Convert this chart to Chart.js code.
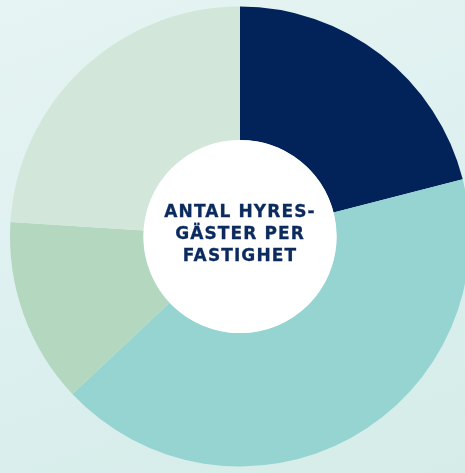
<!DOCTYPE html>
<html lang="sv">
<head>
<meta charset="utf-8">
<title>Antal hyresgäster per fastighet</title>
<script src="https://cdn.jsdelivr.net/npm/chart.js@4"></script>
<style>
  html, body {
    margin: 0;
    padding: 0;
    width: 465px;
    height: 473px;
    overflow: hidden;
  }
  body {
    background: linear-gradient(160deg, #e6f4f3 0%, #dcf0ef 55%, #d5ece8 100%);
    position: relative;
  }
  .wrap {
    position: absolute;
    left: 0;
    top: 0;
    width: 480px;
    height: 473px;
  }
  .center-label {
    position: absolute;
    left: 140px;
    top: 200px;
    width: 200px;
    text-align: center;
    font-family: "DejaVu Sans", sans-serif;
    font-weight: bold;
    font-size: 17px;
    line-height: 22px;
    letter-spacing: 1.1px;
    color: #0b2a5e;
    -webkit-text-stroke: 0.3px #0b2a5e;
  }
</style>
</head>
<body>
<div class="wrap">
  <canvas id="chartHyresgaster" width="480" height="473"></canvas>
</div>
<div class="center-label">ANTAL HYRES-<br>GÄSTER PER<br>FASTIGHET</div>

<script>
/* ================================
   Data
   ================================ */
const segments = ["Segment 1", "Segment 2", "Segment 3", "Segment 4"];
const shares = [21, 42, 13, 24];
const sliceColors = ["#02225a", "#95d4d0", "#b4d7bf", "#d3e6da"];

/* ================================
   White hole in the middle
   ================================ */
const whiteHole = {
  id: "whiteHole",
  afterDatasetsDraw(chart) {
    const arc = chart.getDatasetMeta(0).data[0];
    if (!arc) return;
    const ctx = chart.ctx;
    ctx.save();
    ctx.beginPath();
    ctx.arc(arc.x, arc.y, arc.innerRadius, 0, Math.PI * 2);
    ctx.fillStyle = "#ffffff";
    ctx.fill();
    ctx.restore();
  }
};

/* ================================
   Chart
   ================================ */
const ctx = document.getElementById("chartHyresgaster").getContext("2d");
new Chart(ctx, {
  type: "doughnut",
  data: {
    labels: segments,
    datasets: [
      {
        data: shares,
        backgroundColor: sliceColors,
        borderWidth: 0,
        hoverOffset: 0
      }
    ]
  },
  options: {
    responsive: false,
    animation: false,
    cutout: "42%",
    layout: {
      padding: { top: 6, bottom: 6, left: 10, right: 10 }
    },
    plugins: {
      legend: { display: false },
      tooltip: { enabled: false }
    }
  },
  plugins: [whiteHole]
});
</script>
</body>
</html>
